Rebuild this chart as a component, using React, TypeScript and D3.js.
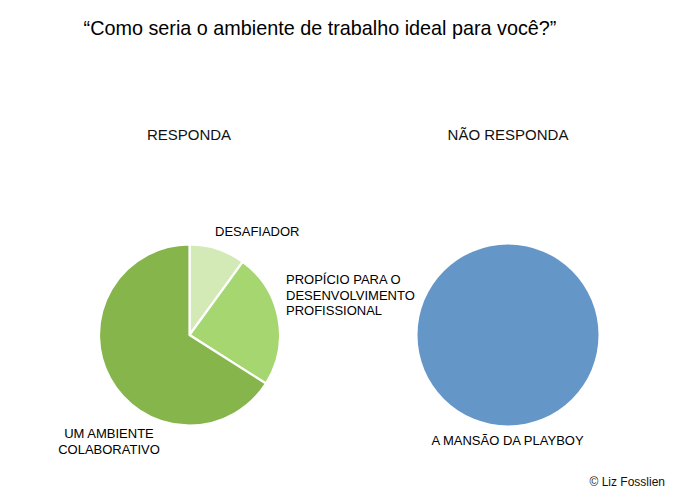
import { useEffect, useRef } from 'react';
import * as d3 from 'd3';

const title = '\u201CComo seria o ambiente de trabalho ideal para voc\u00EA?\u201D';

// left pie
const leftTitle = 'RESPONDA';
const leftCategories = ['DESAFIADOR', 'PROPÍCIO PARA O DESENVOLVIMENTO PROFISSIONAL', 'UM AMBIENTE COLABORATIVO'];
const leftValues = [10, 24, 66];
const leftColors = ['#d3eab7', '#a6d670', '#86b54b'];

// right pie
const rightTitle = 'NÃO RESPONDA';
const rightCategories = ['A MANSÃO DA PLAYBOY'];
const rightValues = [100];
const rightColors = ['#6596c8'];

const credit = '© Liz Fosslien';

const W = 680;
const H = 500;
const FONT = '"Liberation Sans", Arial, Helvetica, sans-serif';

export default function App() {
  const svgRef = useRef<SVGSVGElement>(null);

  useEffect(() => {
    if (!svgRef.current) return;
    const svg = d3.select(svgRef.current);
    svg.selectAll('*').remove();

    svg.append('rect').attr('width', W).attr('height', H).attr('fill', '#fff');

    svg.append('text')
      .attr('x', 320).attr('y', 35)
      .attr('text-anchor', 'middle')
      .attr('font-size', 19.8)
      .attr('fill', '#000')
      .text(title);

    const r = 90.5;
    const arc = d3.arc<d3.PieArcDatum<number>>().innerRadius(0).outerRadius(r);
    const pie = d3.pie<number>().sort(null);

    // Left pie
    const gl = svg.append('g').attr('transform', 'translate(189.5,335)');
    gl.selectAll('path')
      .data(pie(leftValues))
      .enter()
      .append('path')
      .attr('d', arc)
      .attr('fill', (_, i) => leftColors[i])
      .attr('stroke', '#fff')
      .attr('stroke-width', 2.2)
      .attr('stroke-linejoin', 'round');

    // Right pie
    const gr = svg.append('g').attr('transform', 'translate(508,335)');
    gr.selectAll('path')
      .data(pie(rightValues))
      .enter()
      .append('path')
      .attr('d', arc)
      .attr('fill', (_, i) => rightColors[i]);

    // headers
    svg.append('text').attr('x', 189).attr('y', 140).attr('text-anchor', 'middle')
      .attr('font-size', 15).attr('fill', '#111').text(leftTitle);
    svg.append('text').attr('x', 508).attr('y', 140).attr('text-anchor', 'middle')
      .attr('font-size', 15).attr('fill', '#111').text(rightTitle);

    const label = (lines: string[], x: number, y: number, anchor: string) => {
      const t = svg.append('text')
        .attr('x', x).attr('y', y)
        .attr('text-anchor', anchor)
        .attr('font-size', 13)
        .attr('fill', '#000');
      lines.forEach((l, i) => {
        t.append('tspan').attr('x', x).attr('y', y + i * 15.5).text(l);
      });
    };

    label([leftCategories[0]], 215, 236, 'start');
    label(['PROPÍCIO PARA O', 'DESENVOLVIMENTO', 'PROFISSIONAL'], 286, 284, 'start');
    label(['UM AMBIENTE', 'COLABORATIVO'], 109, 438, 'middle');
    label([rightCategories[0]], 507.5, 445, 'middle');

    svg.append('text').attr('x', 665).attr('y', 486).attr('text-anchor', 'end')
      .attr('font-size', 12).attr('fill', '#111').text(credit);
  }, []);

  return (
    <svg
      ref={svgRef}
      width={W}
      height={H}
      style={{ position: 'absolute', left: 0, top: 0, fontFamily: FONT }}
    />
  );
}
